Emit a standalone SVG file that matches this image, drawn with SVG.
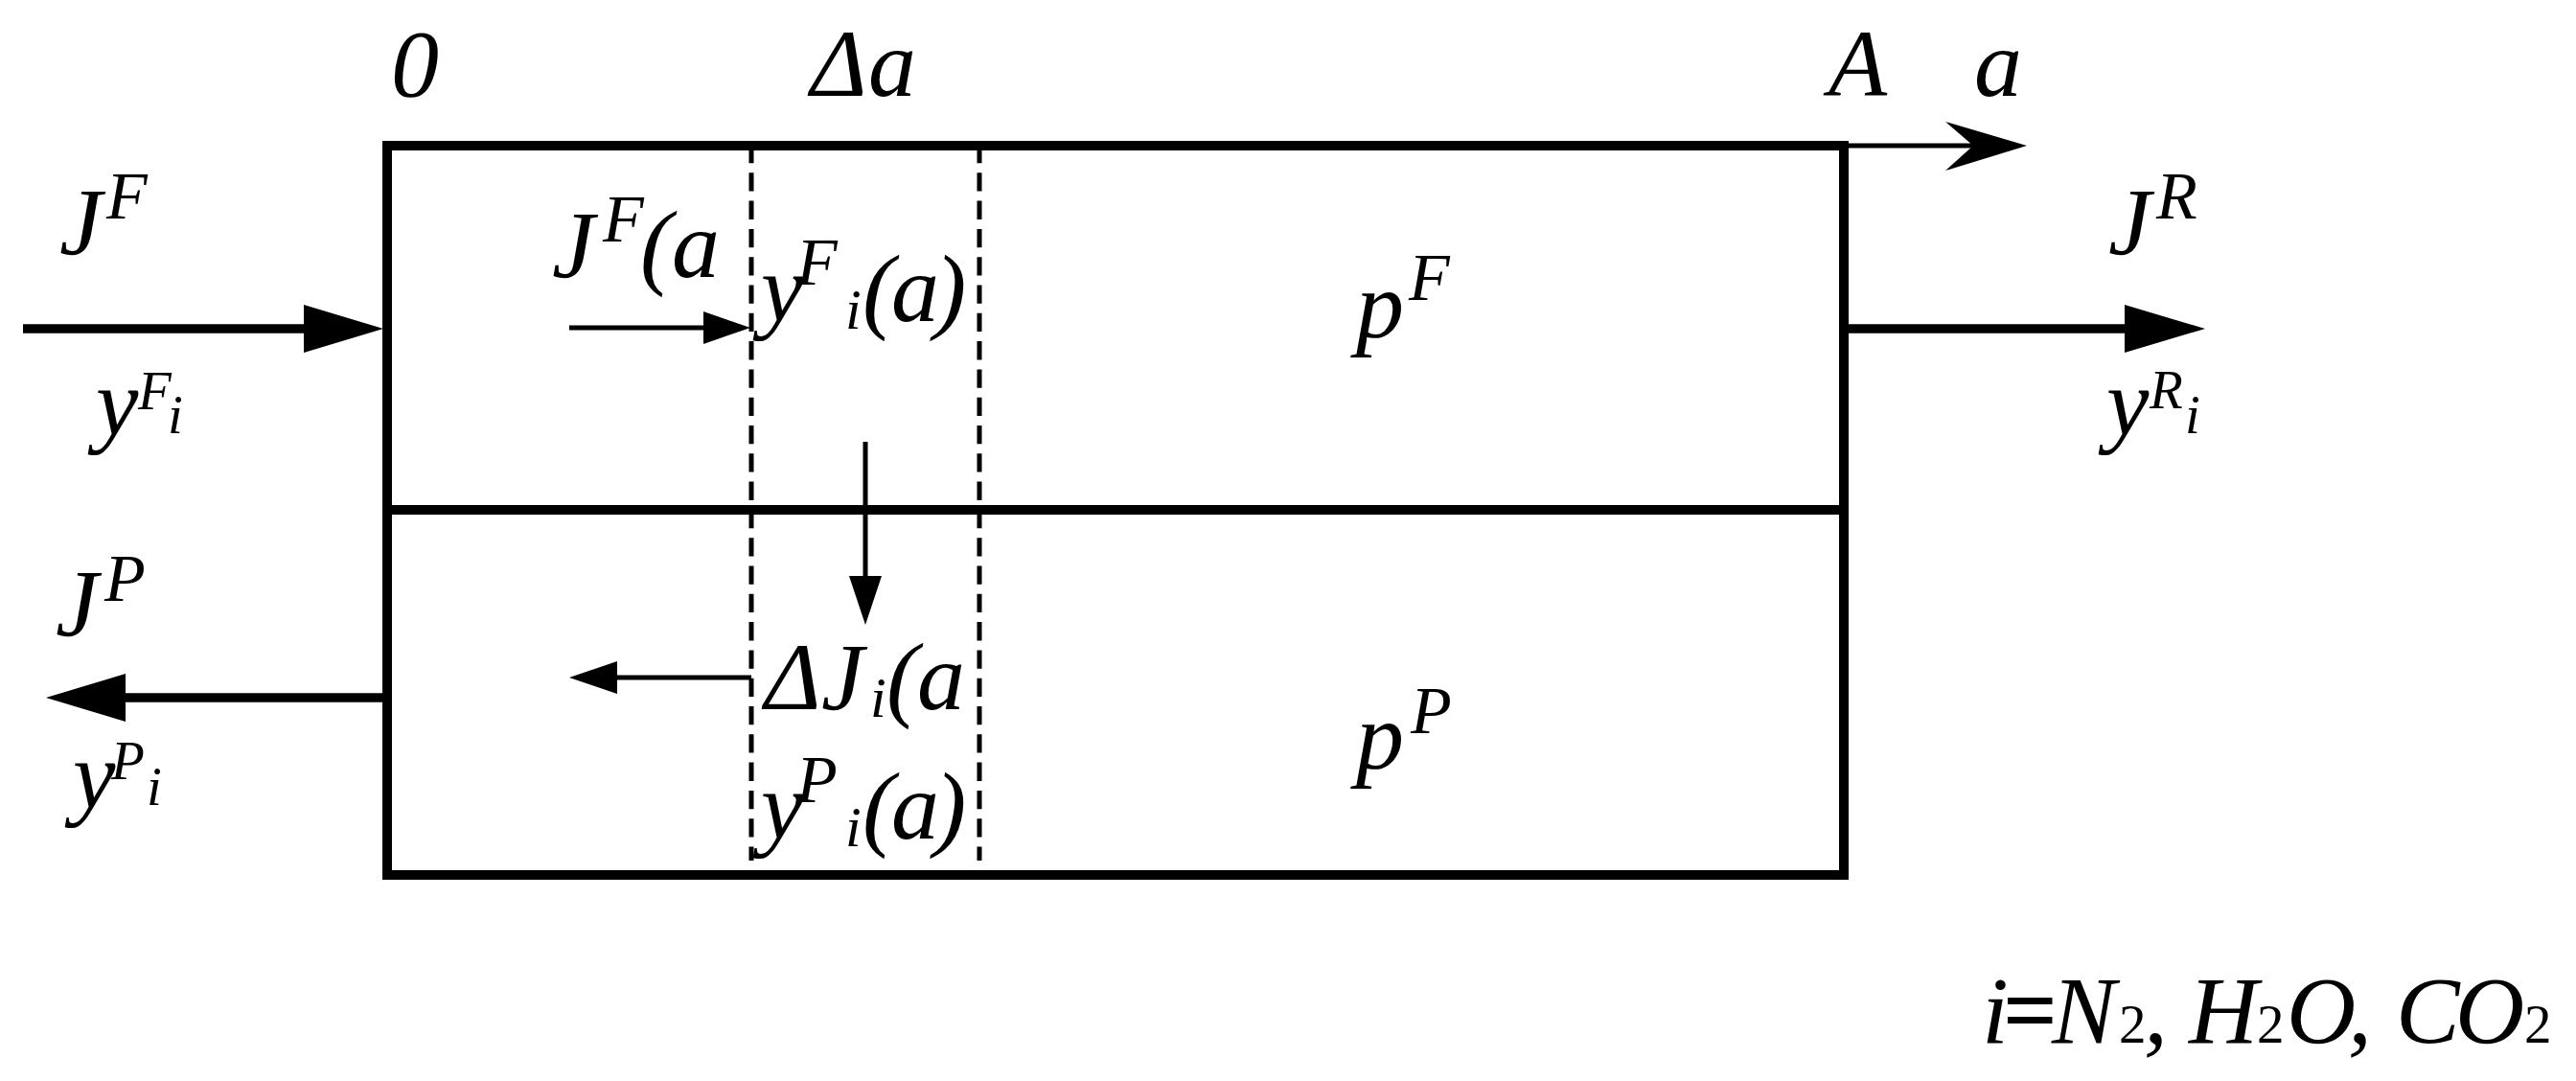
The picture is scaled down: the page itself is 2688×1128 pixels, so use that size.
<svg xmlns="http://www.w3.org/2000/svg" width="2688" height="1128" viewBox="0 0 2688 1128">
<style>
text{font-family:"Liberation Serif","Times New Roman",serif;font-style:italic;fill:#000;font-size:100px}
.s{font-size:70px}
.t{font-size:57px}
.u{font-size:60px}
.r{font-style:normal}
.e{font-style:normal;font-weight:bold}
.b{fill:none;stroke:#000;stroke-width:10}
.d{stroke:#000;stroke-width:5;stroke-dasharray:19.3 10;fill:none}
.c{stroke:#000;fill:none}
.w{stroke-width:9.5}
.n{stroke-width:5}
</style>
<rect width="2688" height="1128" fill="#fff"/>
<g id="membrane-module">
<rect class="b" x="404" y="152" width="1520" height="761"/>
<line class="b" x1="404" y1="532" x2="1924" y2="532"/>
</g>
<g id="element-delta-a">
<line class="d" x1="784" y1="151" x2="784" y2="898"/>
<line class="d" x1="1022" y1="151" x2="1022" y2="898"/>
</g>
<g id="connectors">
<path class="c n" d="M1924 152H2060"/><path d="M2115 152L2030 127L2059 152L2030 178Z"/>
<path class="c w" d="M24 343H320"/><path d="M400 343L317 318V368Z"/>
<path class="c w" d="M1924 343H2220"/><path d="M2301 343L2217 318V368Z"/>
<path class="c w" d="M404 728H128"/><path d="M48 728L131 703V753Z"/>
<path class="c n" d="M594 342H736"/><path d="M783 342L734 325V359Z"/>
<path class="c n" d="M784 707H642"/><path d="M594 707L644 690V724Z"/>
<path class="c n" d="M903 461V603"/><path d="M903 652L886 601H920Z"/>
</g>
<g id="label-axis">
<text x="408" y="100">0</text>
<text x="846" y="100">Δ</text><text x="906" y="100">a</text>
<text x="1908" y="100">A</text>
<text x="2060" y="100">a</text>
</g>
<g id="label-feed">
<text x="62" y="265">J</text><text class="s" x="111" y="228">F</text>
<text x="100" y="454">y</text><text class="t" x="144" y="427">F</text><text class="t" x="175" y="452">i</text>
</g>
<g id="label-retentate">
<text x="2200" y="265">J</text><text class="s" x="2250" y="228">R</text>
<text x="2198" y="454">y</text><text class="t" x="2243" y="426">R</text><text class="t" x="2280" y="452">i</text>
</g>
<g id="label-permeate">
<text x="58" y="663">J</text><text class="s" x="109" y="627">P</text>
<text x="76" y="843">y</text><text class="t" x="116" y="813">P</text><text class="t" x="153" y="840">i</text>
</g>
<g id="label-local-feed">
<text x="576" y="289">J</text><text class="s" x="629" y="252">F</text><text x="668" y="289">(</text><text x="701" y="289">a</text>
<text x="794" y="335">y</text><text class="s" x="831" y="297">F</text><text class="u" x="882" y="343">i</text><text x="900" y="335">(</text><text x="930" y="335">a</text><text x="975" y="335">)</text>
</g>
<g id="label-local-permeate">
<text x="798" y="740">Δ</text><text x="857" y="740">J</text><text class="u" x="908" y="748">i</text><text x="925" y="740">(</text><text x="957" y="740">a</text>
<text x="794" y="875">y</text><text class="s" x="831" y="837">P</text><text class="u" x="882" y="883">i</text><text x="900" y="875">(</text><text x="930" y="875">a</text><text x="975" y="875">)</text>
</g>
<g id="label-pressure">
<text x="1415" y="352">p</text><text class="s" x="1470" y="313">F</text>
<text x="1415" y="802">p</text><text class="s" x="1472" y="765">P</text>
</g>
<g id="label-species">
<text x="2068" y="1088">i</text><text class="e" x="2090" y="1088">=</text><text x="2141" y="1088">N</text><text class="t r" x="2211" y="1088">2</text><text x="2237" y="1088">,</text>
<text x="2284" y="1088">H</text><text class="t r" x="2355" y="1088">2</text><text x="2386" y="1088">O</text><text x="2450" y="1088">,</text>
<text x="2500" y="1088">C</text><text x="2562" y="1088">O</text><text class="t r" x="2634" y="1088">2</text>
</g>
</svg>
